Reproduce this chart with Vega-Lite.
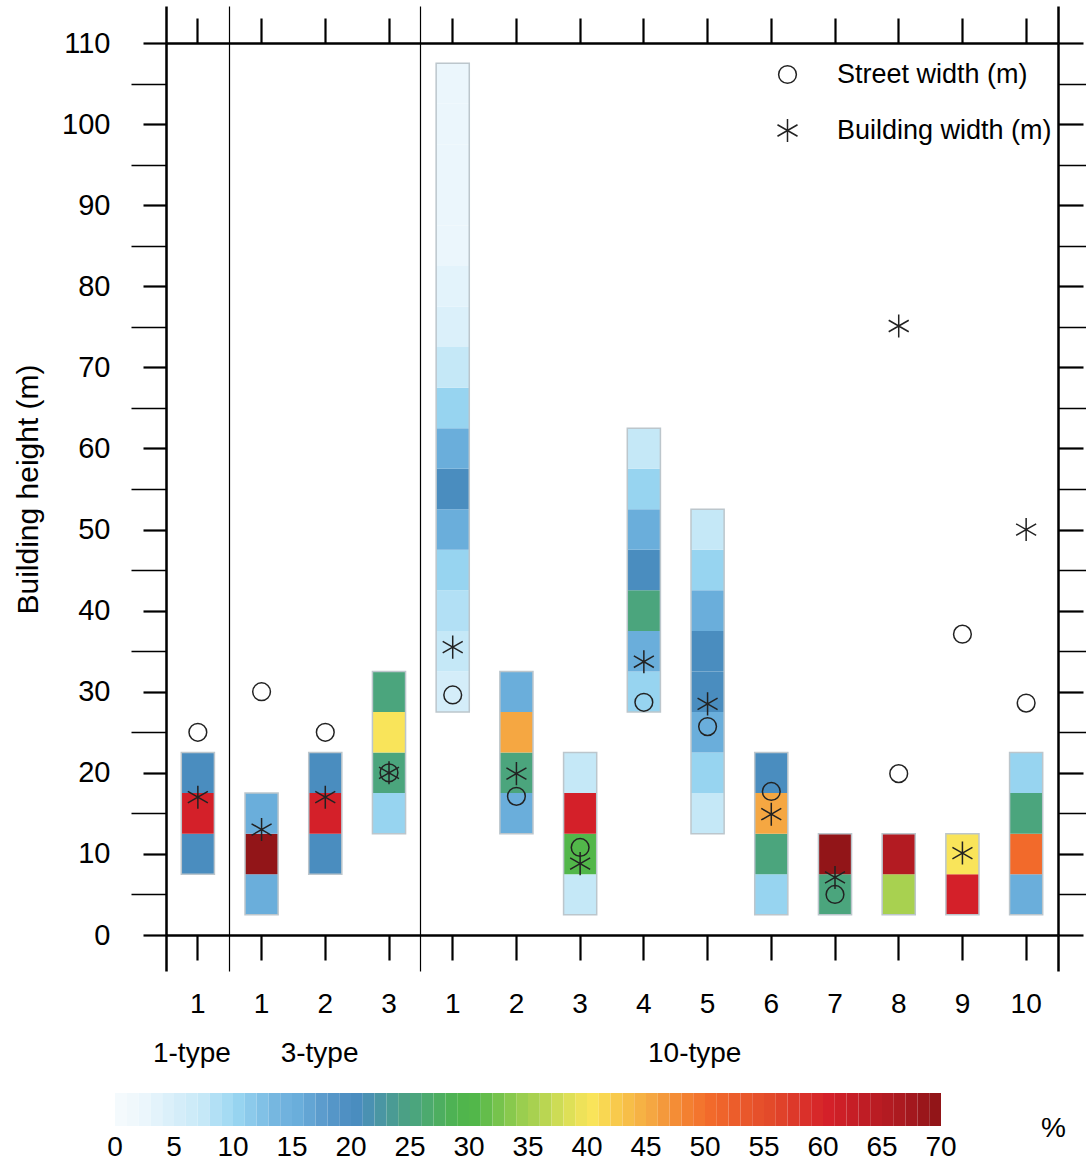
{
  "$schema": "https://vega.github.io/schema/vega-lite/v6.json",
  "width": 892,
  "height": 892,
  "autosize": {"type": "none"},
  "padding": {"left": 166, "top": 43, "right": 28, "bottom": 228},
  "config": {
    "font": "Liberation Sans",
    "view": {"stroke": null},
    "axis": {"domainColor": "#000", "tickColor": "#000", "labelColor": "#000", "titleColor": "#000", "grid": false, "labelOverlap": false},
    "legend": {"labelColor": "#000", "titleColor": "#000"}
  },
  "datasets": {
    "cells": [
      {"cat": "a1", "lo": 7.5, "hi": 12.5, "pct": 20},
      {"cat": "a1", "lo": 12.5, "hi": 17.5, "pct": 60},
      {"cat": "a1", "lo": 17.5, "hi": 22.5, "pct": 20},
      {"cat": "b1", "lo": 2.5, "hi": 7.5, "pct": 15},
      {"cat": "b1", "lo": 7.5, "hi": 12.5, "pct": 70},
      {"cat": "b1", "lo": 12.5, "hi": 17.5, "pct": 15},
      {"cat": "b2", "lo": 7.5, "hi": 12.5, "pct": 20},
      {"cat": "b2", "lo": 12.5, "hi": 17.5, "pct": 60},
      {"cat": "b2", "lo": 17.5, "hi": 22.5, "pct": 20},
      {"cat": "b3", "lo": 12.5, "hi": 17.5, "pct": 10},
      {"cat": "b3", "lo": 17.5, "hi": 22.5, "pct": 25},
      {"cat": "b3", "lo": 22.5, "hi": 27.5, "pct": 40},
      {"cat": "b3", "lo": 27.5, "hi": 32.5, "pct": 25},
      {"cat": "c1", "lo": 27.5, "hi": 32.5, "pct": 5},
      {"cat": "c1", "lo": 32.5, "hi": 37.5, "pct": 7},
      {"cat": "c1", "lo": 37.5, "hi": 42.5, "pct": 8},
      {"cat": "c1", "lo": 42.5, "hi": 47.5, "pct": 10},
      {"cat": "c1", "lo": 47.5, "hi": 52.5, "pct": 15},
      {"cat": "c1", "lo": 52.5, "hi": 57.5, "pct": 20},
      {"cat": "c1", "lo": 57.5, "hi": 62.5, "pct": 15},
      {"cat": "c1", "lo": 62.5, "hi": 67.5, "pct": 10},
      {"cat": "c1", "lo": 67.5, "hi": 72.5, "pct": 7},
      {"cat": "c1", "lo": 72.5, "hi": 77.5, "pct": 4},
      {"cat": "c1", "lo": 77.5, "hi": 82.5, "pct": 3},
      {"cat": "c1", "lo": 82.5, "hi": 87.5, "pct": 2},
      {"cat": "c1", "lo": 87.5, "hi": 92.5, "pct": 2},
      {"cat": "c1", "lo": 92.5, "hi": 97.5, "pct": 2},
      {"cat": "c1", "lo": 97.5, "hi": 102.5, "pct": 2},
      {"cat": "c1", "lo": 102.5, "hi": 107.5, "pct": 2},
      {"cat": "c2", "lo": 12.5, "hi": 17.5, "pct": 15},
      {"cat": "c2", "lo": 17.5, "hi": 22.5, "pct": 25},
      {"cat": "c2", "lo": 22.5, "hi": 27.5, "pct": 45},
      {"cat": "c2", "lo": 27.5, "hi": 32.5, "pct": 15},
      {"cat": "c3", "lo": 2.5, "hi": 7.5, "pct": 7},
      {"cat": "c3", "lo": 7.5, "hi": 12.5, "pct": 30},
      {"cat": "c3", "lo": 12.5, "hi": 17.5, "pct": 60},
      {"cat": "c3", "lo": 17.5, "hi": 22.5, "pct": 7},
      {"cat": "c4", "lo": 27.5, "hi": 32.5, "pct": 10},
      {"cat": "c4", "lo": 32.5, "hi": 37.5, "pct": 15},
      {"cat": "c4", "lo": 37.5, "hi": 42.5, "pct": 25},
      {"cat": "c4", "lo": 42.5, "hi": 47.5, "pct": 20},
      {"cat": "c4", "lo": 47.5, "hi": 52.5, "pct": 15},
      {"cat": "c4", "lo": 52.5, "hi": 57.5, "pct": 10},
      {"cat": "c4", "lo": 57.5, "hi": 62.5, "pct": 7},
      {"cat": "c5", "lo": 12.5, "hi": 17.5, "pct": 7},
      {"cat": "c5", "lo": 17.5, "hi": 22.5, "pct": 10},
      {"cat": "c5", "lo": 22.5, "hi": 27.5, "pct": 15},
      {"cat": "c5", "lo": 27.5, "hi": 32.5, "pct": 20},
      {"cat": "c5", "lo": 32.5, "hi": 37.5, "pct": 20},
      {"cat": "c5", "lo": 37.5, "hi": 42.5, "pct": 15},
      {"cat": "c5", "lo": 42.5, "hi": 47.5, "pct": 10},
      {"cat": "c5", "lo": 47.5, "hi": 52.5, "pct": 7},
      {"cat": "c6", "lo": 2.5, "hi": 7.5, "pct": 10},
      {"cat": "c6", "lo": 7.5, "hi": 12.5, "pct": 25},
      {"cat": "c6", "lo": 12.5, "hi": 17.5, "pct": 45},
      {"cat": "c6", "lo": 17.5, "hi": 22.5, "pct": 20},
      {"cat": "c7", "lo": 2.5, "hi": 7.5, "pct": 25},
      {"cat": "c7", "lo": 7.5, "hi": 12.5, "pct": 75},
      {"cat": "c8", "lo": 2.5, "hi": 7.5, "pct": 35},
      {"cat": "c8", "lo": 7.5, "hi": 12.5, "pct": 65},
      {"cat": "c9", "lo": 2.5, "hi": 7.5, "pct": 60},
      {"cat": "c9", "lo": 7.5, "hi": 12.5, "pct": 40},
      {"cat": "c10", "lo": 2.5, "hi": 7.5, "pct": 15},
      {"cat": "c10", "lo": 7.5, "hi": 12.5, "pct": 50},
      {"cat": "c10", "lo": 12.5, "hi": 17.5, "pct": 25},
      {"cat": "c10", "lo": 17.5, "hi": 22.5, "pct": 10}
    ],
    "marks": [
      {"cat": "a1", "kind": "Street width (m)", "v": 25.0},
      {"cat": "a1", "kind": "Building width (m)", "v": 17.0},
      {"cat": "b1", "kind": "Street width (m)", "v": 30.0},
      {"cat": "b1", "kind": "Building width (m)", "v": 13.0},
      {"cat": "b2", "kind": "Street width (m)", "v": 25.0},
      {"cat": "b2", "kind": "Building width (m)", "v": 17.0},
      {"cat": "b3", "kind": "Street width (m)", "v": 20.0},
      {"cat": "b3", "kind": "Building width (m)", "v": 20.0},
      {"cat": "c1", "kind": "Street width (m)", "v": 29.6},
      {"cat": "c1", "kind": "Building width (m)", "v": 35.5},
      {"cat": "c2", "kind": "Street width (m)", "v": 17.1},
      {"cat": "c2", "kind": "Building width (m)", "v": 19.9},
      {"cat": "c3", "kind": "Street width (m)", "v": 10.8},
      {"cat": "c3", "kind": "Building width (m)", "v": 8.8},
      {"cat": "c4", "kind": "Street width (m)", "v": 28.7},
      {"cat": "c4", "kind": "Building width (m)", "v": 33.7},
      {"cat": "c5", "kind": "Street width (m)", "v": 25.7},
      {"cat": "c5", "kind": "Building width (m)", "v": 28.5},
      {"cat": "c6", "kind": "Street width (m)", "v": 17.7},
      {"cat": "c6", "kind": "Building width (m)", "v": 14.9},
      {"cat": "c7", "kind": "Street width (m)", "v": 5.0},
      {"cat": "c7", "kind": "Building width (m)", "v": 7.1},
      {"cat": "c8", "kind": "Street width (m)", "v": 19.9},
      {"cat": "c8", "kind": "Building width (m)", "v": 75.1},
      {"cat": "c9", "kind": "Street width (m)", "v": 37.1},
      {"cat": "c9", "kind": "Building width (m)", "v": 10.1},
      {"cat": "c10", "kind": "Street width (m)", "v": 28.6},
      {"cat": "c10", "kind": "Building width (m)", "v": 50.0}
    ]
  },
  "resolve": {"axis": {"x": "independent", "y": "independent"}},
  "layer": [
    {
      "data": {"name": "cells"},
      "mark": {"type": "bar", "width": {"band": 0.52}},
      "encoding": {
        "x": {
          "field": "cat", "type": "nominal",
          "scale": {"type": "band", "domain": ["a1","b1","b2","b3","c1","c2","c3","c4","c5","c6","c7","c8","c9","c10"], "paddingInner": 0, "paddingOuter": 0},
          "axis": {"orient": "bottom", "title": null, "labelExpr": "slice(datum.value, 1)", "labelAngle": 0, "labelFontSize": 28, "labelPadding": 30, "tickSize": 25, "tickWidth": 2.2, "domainWidth": 2.5}
        },
        "y": {
          "field": "lo", "type": "quantitative",
          "scale": {"domain": [0, 110], "nice": false, "zero": true},
          "axis": {
            "orient": "left", "title": "Building height (m)",
            "values": [0,5,10,15,20,25,30,35,40,45,50,55,60,65,70,75,80,85,90,95,100,105,110],
            "labelExpr": "datum.value % 10 === 0 ? datum.label : ''",
            "tickSize": {"condition": {"test": "datum.value % 10 === 0", "value": 23}, "value": 35},
            "tickWidth": {"condition": {"test": "datum.value % 10 === 0", "value": 2.2}, "value": 1.3},
            "labelPadding": 33, "labelFontSize": 29, "titleFontSize": 30, "titleFontWeight": "normal", "titlePadding": 18, "domainWidth": 2.5, "labelFlush": false
          }
        },
        "y2": {"field": "hi"},
        "color": {
          "field": "pct", "type": "quantitative",
          "scale": {"type": "quantize", "domain": [0, 70], "range": [
            "#f4fafd","#f0f8fc","#ebf6fc","#e3f3fb","#dbf0fa","#d4edf9","#cdebf8","#c5e8f7","#b2e0f5","#a5dbf3",
            "#97d4f0","#8ccaeb","#81c1e6","#76b7e0","#70b2de","#6aaedb","#63a5d4","#5c9ccd","#5596c8","#4f90c3",
            "#4a8dbf","#4a91b2","#4a96a3","#4a9b94","#4ba085","#4ba57d","#4caa6e","#4dae60","#4eb254","#50b54c",
            "#52b74a","#64bd4b","#76c34c","#88c94d","#9ace4f","#a8d150","#bad652","#cddc55","#dee057","#eee259",
            "#f9e45a","#f9d752","#f8ca4c","#f7be48","#f6b244","#f5a742","#f4993c","#f48d36","#f38031","#f3752e",
            "#f26a2b","#ef642b","#ec5d2b","#e9572b","#e6502b","#e34a2a","#e0422a","#dd392a","#da302a","#d72829",
            "#d42029","#cd1f27","#c61e26","#bf1d25","#ba1c23","#b31b22","#ac1a20","#a3181e","#9a161b","#921518"
          ]},
          "legend": {
            "type": "gradient", "orient": "none", "legendX": -51, "legendY": 1050, "direction": "horizontal",
            "gradientLength": 826, "gradientThickness": 33, "gradientStrokeWidth": 0,
            "values": [0,1,2,3,4,5,6,7,8,9,10,11,12,13,14,15,16,17,18,19,20,21,22,23,24,25,26,27,28,29,30,31,32,33,34,35,36,37,38,39,40,41,42,43,44,45,46,47,48,49,50,51,52,53,54,55,56,57,58,59,60,61,62,63,64,65,66,67,68,69,70],
            "labelExpr": "datum.value % 5 === 0 ? '' + datum.value : ''",
            "labelFontSize": 28, "labelAlign": "center", "labelOffset": 8, "labelOverlap": false,
            "encoding": {"labels": {"align": {"value": "center"}}},
            "title": "%", "titleOrient": "right", "titleAnchor": "middle", "titleBaseline": "line-top", "titleLineHeight": 38,
            "titleFontSize": 28, "titleFontWeight": "normal", "titlePadding": 100, "padding": 0
          }
        }
      }
    },
    {
      "data": {"name": "cells"},
      "transform": [{"aggregate": [{"op": "min", "field": "lo", "as": "blo"}, {"op": "max", "field": "hi", "as": "bhi"}], "groupby": ["cat"]}],
      "mark": {"type": "bar", "width": {"band": 0.52}, "filled": false, "fill": null, "stroke": "#bcc6cc", "strokeWidth": 1.5},
      "encoding": {
        "x": {
          "field": "cat", "type": "nominal",
          "scale": {"type": "band", "domain": ["a1","b1","b2","b3","c1","c2","c3","c4","c5","c6","c7","c8","c9","c10"], "paddingInner": 0, "paddingOuter": 0},
          "axis": {"orient": "top", "title": null, "labels": false, "tickSize": 25, "tickWidth": 2.2, "domainWidth": 2.5}
        },
        "y": {
          "field": "blo", "type": "quantitative",
          "scale": {"domain": [0, 110], "nice": false, "zero": true},
          "axis": {
            "orient": "right", "title": null, "labels": false,
            "values": [0,5,10,15,20,25,30,35,40,45,50,55,60,65,70,75,80,85,90,95,100,105,110],
            "tickSize": {"condition": {"test": "datum.value % 10 === 0", "value": 25}, "value": 35},
            "tickWidth": {"condition": {"test": "datum.value % 10 === 0", "value": 2.2}, "value": 1.3},
            "domainWidth": 2.5
          }
        },
        "y2": {"field": "bhi"}
      }
    },
    {
      "data": {"name": "marks"},
      "mark": {"type": "point", "filled": false, "size": 314, "strokeWidth": 1.5, "color": "#222", "opacity": 1},
      "encoding": {
        "x": {
          "field": "cat", "type": "nominal",
          "scale": {"type": "band", "domain": ["a1","b1","b2","b3","c1","c2","c3","c4","c5","c6","c7","c8","c9","c10"], "paddingInner": 0, "paddingOuter": 0},
          "axis": {"orient": "top", "title": null, "labels": false, "domain": false, "bandPosition": 0, "values": ["a1","b1","c1"], "tickSize": 37,
            "tickWidth": {"condition": {"test": "datum.value === 'a1'", "value": 2.5}, "value": 1.2},
            "grid": true, "gridColor": "#000", "gridWidth": 1.2, "gridOpacity": 1}
        },
        "y": {"field": "v", "type": "quantitative", "scale": {"domain": [0, 110], "nice": false, "zero": true}, "axis": null},
        "shape": {
          "field": "kind", "type": "nominal",
          "scale": {"domain": ["Street width (m)", "Building width (m)"], "range": ["circle", "M0,-1.3L0,1.3M-1.13,-0.65L1.13,0.65M-1.13,0.65L1.13,-0.65"]},
          "legend": {"orient": "none", "legendX": 608, "legendY": 18, "title": null, "labelFontSize": 27, "labelLimit": 0, "symbolSize": 314,
            "symbolStrokeWidth": 1.5, "symbolStrokeColor": "#222", "symbolFillColor": "transparent", "labelOffset": 36, "rowPadding": 27, "padding": 0}
        }
      }
    },
    {
      "data": {"name": "marks"},
      "mark": {"type": "point", "opacity": 0},
      "encoding": {
        "x": {
          "field": "cat", "type": "nominal",
          "scale": {"type": "band", "domain": ["a1","b1","b2","b3","c1","c2","c3","c4","c5","c6","c7","c8","c9","c10"], "paddingInner": 0, "paddingOuter": 0},
          "axis": {"orient": "bottom", "title": null, "domain": false, "bandPosition": 0, "values": ["a1","b1","c1"], "tickSize": 36,
            "tickWidth": {"condition": {"test": "datum.value === 'a1'", "value": 2.5}, "value": 1.2},
            "labelExpr": "datum.value === 'a1' ? '1-type' : datum.value === 'b1' ? '3-type' : '10-type'",
            "labelOffset": {"condition": [{"test": "datum.value === 'a1'", "value": -6}, {"test": "datum.value === 'b1'", "value": 58}], "value": 242},
            "labelAngle": 0, "labelFontSize": 28, "labelPadding": 68, "labelAlign": "center"}
        },
        "y": {"field": "v", "type": "quantitative", "scale": {"domain": [0, 110], "nice": false, "zero": true}, "axis": null}
      }
    },
    {
      "data": {"name": "marks"},
      "mark": {"type": "point", "opacity": 0},
      "encoding": {
        "x": {
          "field": "cat", "type": "nominal",
          "scale": {"type": "band", "domain": ["a1","b1","b2","b3","c1","c2","c3","c4","c5","c6","c7","c8","c9","c10"], "paddingInner": 0, "paddingOuter": 0},
          "axis": {"orient": "top", "title": null, "domain": false, "labels": false, "bandPosition": 1, "values": ["c10"], "tickSize": 37, "tickWidth": 2.5}
        },
        "y": {"field": "v", "type": "quantitative", "scale": {"domain": [0, 110], "nice": false, "zero": true}, "axis": null}
      }
    },
    {
      "data": {"name": "marks"},
      "mark": {"type": "point", "opacity": 0},
      "encoding": {
        "x": {
          "field": "cat", "type": "nominal",
          "scale": {"type": "band", "domain": ["a1","b1","b2","b3","c1","c2","c3","c4","c5","c6","c7","c8","c9","c10"], "paddingInner": 0, "paddingOuter": 0},
          "axis": {"orient": "bottom", "title": null, "domain": false, "labels": false, "bandPosition": 1, "values": ["c10"], "tickSize": 36, "tickWidth": 2.5}
        },
        "y": {"field": "v", "type": "quantitative", "scale": {"domain": [0, 110], "nice": false, "zero": true}, "axis": null}
      }
    }
  ]
}
